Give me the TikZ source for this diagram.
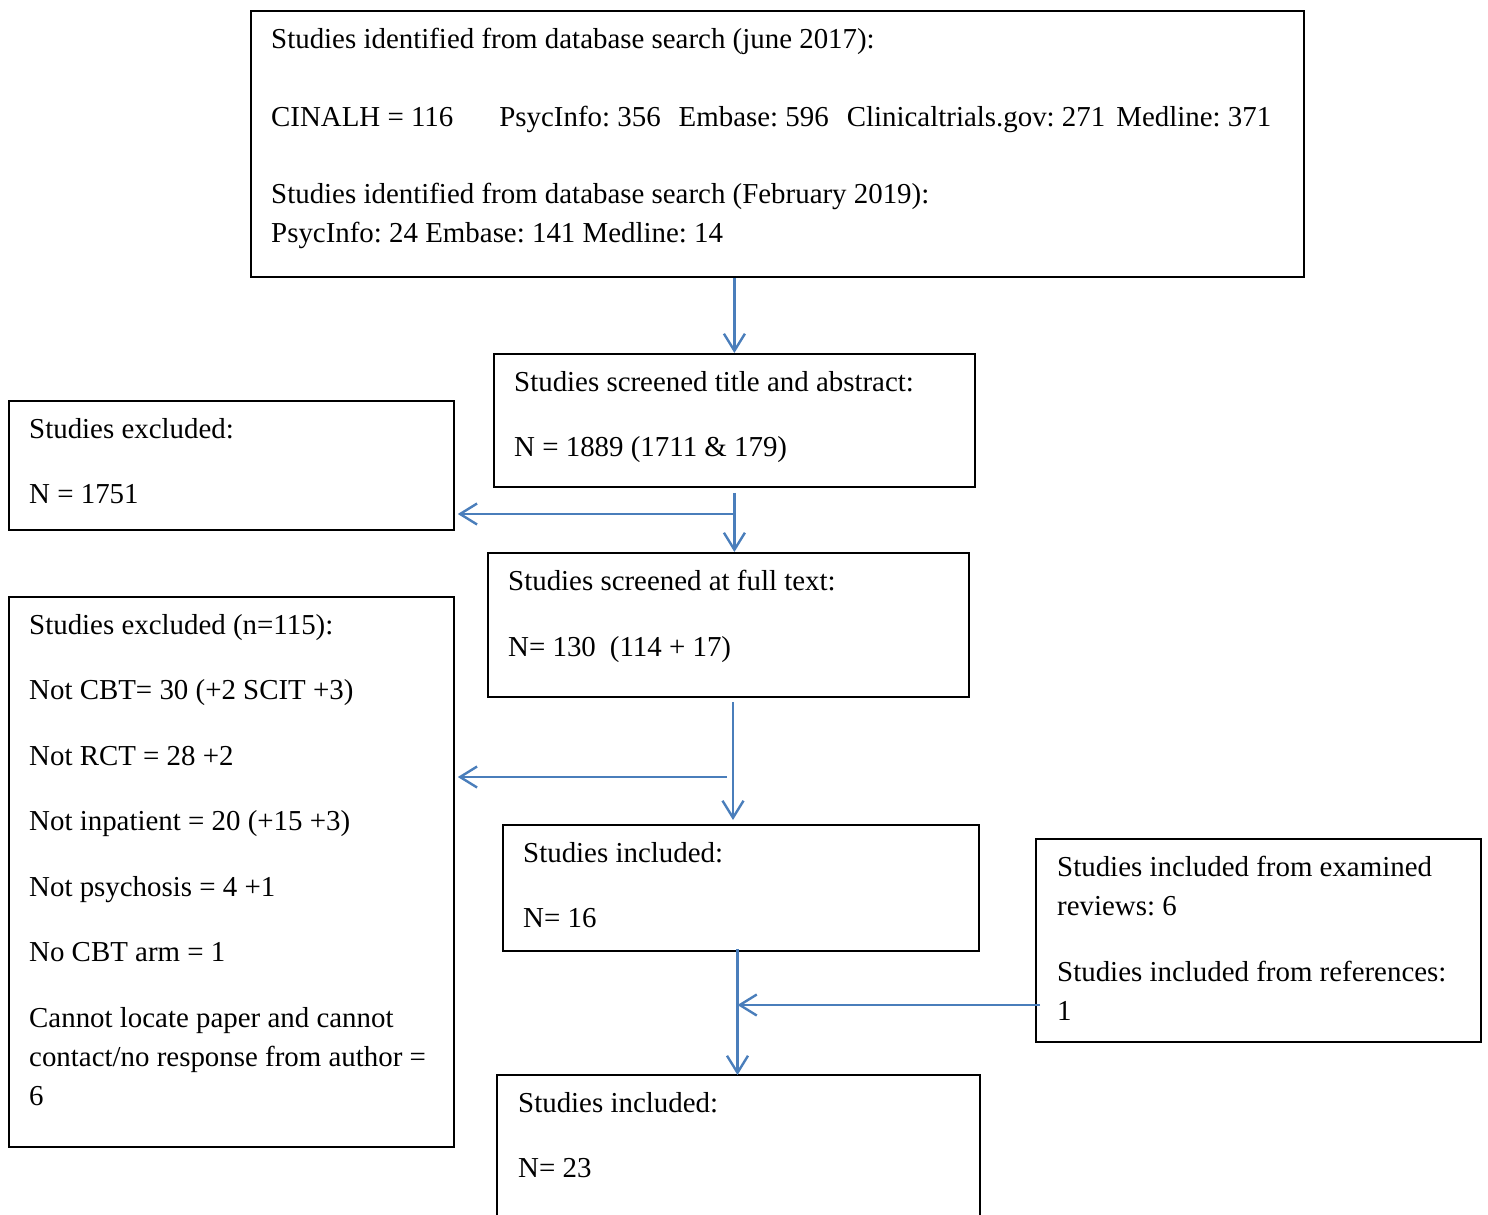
\documentclass[tikz,border=0pt]{standalone}
\usepackage{fontspec}
\setmainfont{Liberation Serif}
\usepackage{tikz}
\usetikzlibrary{arrows.meta}
\usetikzlibrary{calc}
\definecolor{arrblue}{HTML}{4A7EBB}
\tikzset{
	box/.style={draw, line width=1.8pt, inner sep=0pt, anchor=north west},
	txt/.style={anchor=north west, inner sep=0pt, align=left, font=\fontsize{28.9}{39.3}\selectfont\frenchspacing},
	arr/.style={draw=arrblue, line width=2.4pt, -{Straight Barb[length=17pt,width=21pt]}}
}

\begin{document}
\begin{tikzpicture}[x=1pt,y=-1pt]
	\useasboundingbox (0,0) rectangle (1488,1215);
	
	% boxes
	\node[box, minimum width=1053pt, minimum height=266pt] (search) at (250,10) {};
	\node[txt] (searchtxt) at ($(search.north west)+(21,18)$) {Studies identified from database search (june 2017):\\[38.2pt]
		CINALH = 116\hspace{46pt}PsycInfo: 356\hspace{18pt}Embase: 596\hspace{18pt}Clinicaltrials.gov: 271\hspace{11pt}Medline: 371\\[38.2pt]
		Studies identified from database search (February 2019):\\
		PsycInfo: 24 Embase: 141 Medline: 14};
	
	\node[box, minimum width=481pt, minimum height=133pt] (screen) at (493,353) {};
	\node[txt] (screentxt) at ($(screen.north west)+(21,18)$) {Studies screened title and abstract:\\[26.2pt]
		N = 1889 (1711 \& 179)};
	
	\node[box, minimum width=445pt, minimum height=129pt] (excl) at (8,400) {};
	\node[txt] (excltxt) at ($(excl.north west)+(21,18)$) {Studies excluded:\\[26.2pt]
		N = 1751};
	
	\node[box, minimum width=481pt, minimum height=144pt] (fulltext) at (487,552) {};
	\node[txt] (fulltexttxt) at ($(fulltext.north west)+(21,18)$) {Studies screened at full text:\\[26.2pt]
		N= 130\hspace{14pt}(114 + 17)};
	
	\node[box, minimum width=445pt, minimum height=550pt] (exclfull) at (8,596) {};
	\node[txt] (exclfulltxt) at ($(exclfull.north west)+(21,18)$) {Studies excluded (n=115):\\[26.2pt]
		Not CBT= 30 (+2 SCIT +3)\\[26.2pt]
		Not RCT = 28 +2\\[26.2pt]
		Not inpatient = 20 (+15 +3)\\[26.2pt]
		Not psychosis = 4 +1\\[26.2pt]
		No CBT arm = 1\\[26.2pt]
		Cannot locate paper and cannot\\
		contact/no response from author =\\
		6};
	
	\node[box, minimum width=476pt, minimum height=126pt] (incl) at (502,824) {};
	\node[txt] (incltxt) at ($(incl.north west)+(21,18)$) {Studies included:\\[26.2pt]
		N= 16};
	
	\node[box, minimum width=445pt, minimum height=203pt] (reviews) at (1035,838) {};
	\node[txt] (reviewstxt) at ($(reviews.north west)+(22,18)$) {Studies included from examined\\
		reviews: 6\\[26.2pt]
		Studies included from references:\\
		1};
	
	% last box runs off the page, no bottom edge
	\node[box, draw=none, minimum width=481pt, minimum height=140pt] (final) at (497,1075) {};
	\draw[line width=1.8pt] (final.south west) |- (final.north east) -- (final.south east);
	\node[txt] (finaltxt) at ($(final.north west)+(21,17)$) {Studies included:\\[26.2pt]
		N= 23};
	
	% arrows
	\coordinate (b1) at (733.5,514);
	\coordinate (b2) at (733,777);
	\coordinate (b3) at (737.5,1005);
	
	\draw[arr] (search.south -| screen.north) -- (screen.north);
	\draw[arr, shorten <=5pt] (screen.south) -- (screen.south |- fulltext.north);
	\draw[arr, shorten >=3pt] (b1) -- (b1 -| excl.east);
	
	\draw[arr, shorten <=4pt] (fulltext.south -| b2) -- ([yshift=4pt]incl.north -| b2);
	\draw[arr, shorten >=3pt] ([xshift=-6pt]b2) -- (b2 -| exclfull.east);
	
	\draw[arr] ([yshift=3pt]incl.south -| b3) -- (final.north -| b3);
	\draw[arr] ([xshift=5pt]b3 -| reviews.west) -- (b3);
\end{tikzpicture}
\end{document}
